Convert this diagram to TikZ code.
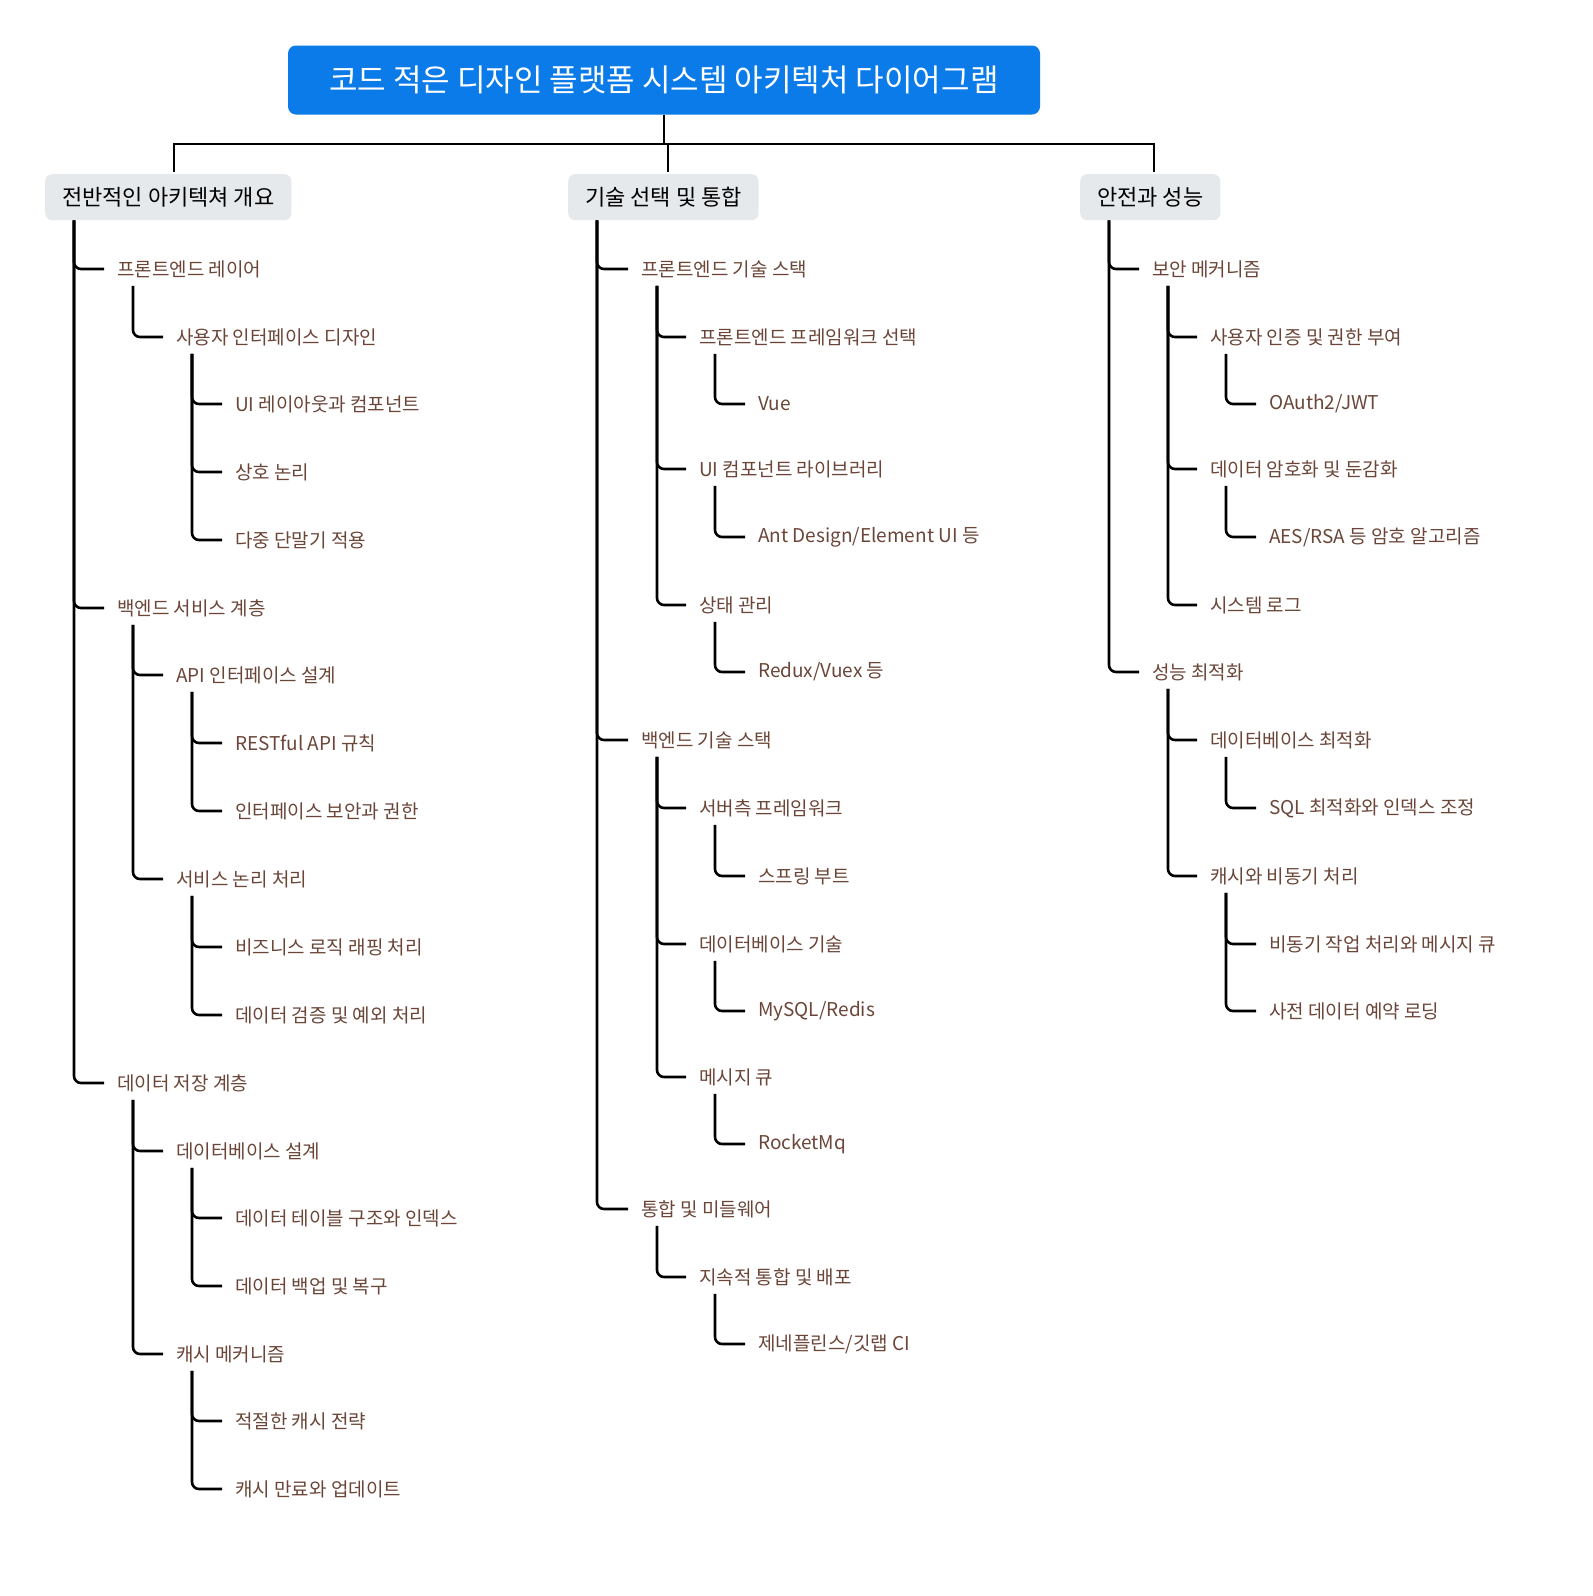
\documentclass[tikz,border=0pt]{standalone}
\usepackage{fontspec}
\setmainfont{Noto Sans CJK KR}
\usetikzlibrary{calc}
\definecolor{rootblue}{HTML}{0B7BE9}
\definecolor{topgray}{HTML}{E6E9EC}
\definecolor{leaftext}{HTML}{6A4538}
\tikzset{
  root/.style={fill=rootblue, text=white, rounded corners=8pt, minimum width=752pt, minimum height=69pt, font=\fontsize{31}{34}\selectfont},
  topic/.style={fill=topgray, rounded corners=7pt, minimum height=46pt, inner xsep=17pt, anchor=north west, font=\fontsize{22}{26}\selectfont},
  leaf/.style={anchor=west, inner sep=0pt, text=leaftext, font=\fontsize{19}{22}\selectfont},
  link/.style={line width=2.6pt, rounded corners=7pt, shorten >=13pt},
  trunk/.style={line width=2.6pt},
}
\begin{document}
\begin{tikzpicture}[x=1pt, y=-1pt]
\useasboundingbox (0,0) rectangle (1593,1596);
\node[root] (r) at (664,80) {코드 적은 디자인 플랫폼 시스템 아키텍처 다이어그램};
\node[topic] (a) at (45,174) {전반적인 아키텍쳐 개요};
\node[topic] (b) at (568,174) {기술 선택 및 통합};
\node[topic] (c) at (1080,174) {안전과 성능};
\draw[trunk] (r.south) -- (664,144);
\draw[trunk] (174,172) -- (174,144) -- (1154,144) -- (1154,172);
\draw[trunk] (668,144) -- (668,172);
% column one
\node[leaf] (a1) at (117,269) {프론트엔드 레이어};
\node[leaf] (a11) at (176,337) {사용자 인터페이스 디자인};
\node[leaf] (a111) at (235,404) {UI 레이아웃과 컴포넌트};
\node[leaf] (a112) at (235,472) {상호 논리};
\node[leaf] (a113) at (235,540) {다중 단말기 적용};
\node[leaf] (a2) at (117,608) {백엔드 서비스 계층};
\node[leaf] (a21) at (176,675) {API 인터페이스 설계};
\node[leaf] (a211) at (235,743) {RESTful API 규칙};
\node[leaf] (a212) at (235,811) {인터페이스 보안과 권한};
\node[leaf] (a22) at (176,879) {서비스 논리 처리};
\node[leaf] (a221) at (235,947) {비즈니스 로직 래핑 처리};
\node[leaf] (a222) at (235,1015) {데이터 검증 및 예외 처리};
\node[leaf] (a3) at (117,1083) {데이터 저장 계층};
\node[leaf] (a31) at (176,1151) {데이터베이스 설계};
\node[leaf] (a311) at (235,1218) {데이터 테이블 구조와 인덱스};
\node[leaf] (a312) at (235,1286) {데이터 백업 및 복구};
\node[leaf] (a32) at (176,1354) {캐시 메커니즘};
\node[leaf] (a321) at (235,1421) {적절한 캐시 전략};
\node[leaf] (a322) at (235,1489) {캐시 만료와 업데이트};
% column two
\node[leaf] (b1) at (641,269) {프론트엔드 기술 스택};
\node[leaf] (b11) at (699,337) {프론트엔드 프레임워크 선택};
\node[leaf] (b111) at (758,404) {Vue};
\node[leaf] (b12) at (699,469) {UI 컴포넌트 라이브러리};
\node[leaf] (b121) at (758,537) {Ant Design/Element UI 등};
\node[leaf] (b13) at (699,605) {상태 관리};
\node[leaf] (b131) at (758,672) {Redux/Vuex 등};
\node[leaf] (b2) at (641,740) {백엔드 기술 스택};
\node[leaf] (b21) at (699,808) {서버측 프레임워크};
\node[leaf] (b211) at (758,876) {스프링 부트};
\node[leaf] (b22) at (699,944) {데이터베이스 기술};
\node[leaf] (b221) at (758,1011) {MySQL/Redis};
\node[leaf] (b23) at (699,1077) {메시지 큐};
\node[leaf] (b231) at (758,1144) {RocketMq};
\node[leaf] (b3) at (641,1209) {통합 및 미들웨어};
\node[leaf] (b31) at (699,1277) {지속적 통합 및 배포};
\node[leaf] (b311) at (758,1344) {제네플린스/깃랩 CI};
% column three
\node[leaf] (c1) at (1152,269) {보안 메커니즘};
\node[leaf] (c11) at (1210,337) {사용자 인증 및 권한 부여};
\node[leaf] (c111) at (1269,404) {OAuth2/JWT};
\node[leaf] (c12) at (1210,469) {데이터 암호화 및 둔감화};
\node[leaf] (c121) at (1269,537) {AES/RSA 등 암호 알고리즘};
\node[leaf] (c13) at (1210,605) {시스템 로그};
\node[leaf] (c2) at (1152,672) {성능 최적화};
\node[leaf] (c21) at (1210,740) {데이터베이스 최적화};
\node[leaf] (c211) at (1269,808) {SQL 최적화와 인덱스 조정};
\node[leaf] (c22) at (1210,876) {캐시와 비동기 처리};
\node[leaf] (c221) at (1269,944) {비동기 작업 처리와 메시지 큐};
\node[leaf] (c222) at (1269,1011) {사전 데이터 예약 로딩};
% connectors
\foreach \p/\c in {a/a1, a/a2, a/a3, b/b1, b/b2, b/b3, c/c1, c/c2}
  \draw[link] ($(\p.south west)+(29,0)$) |- (\c.west);
\foreach \p/\c in {a1/a11, a11/a111, a11/a112, a11/a113, a2/a21, a2/a22,
    a21/a211, a21/a212, a22/a221, a22/a222, a3/a31, a3/a32, a31/a311,
    a31/a312, a32/a321, a32/a322, b1/b11, b1/b12, b1/b13, b11/b111,
    b12/b121, b13/b131, b2/b21, b2/b22, b2/b23, b21/b211, b22/b221,
    b23/b231, b3/b31, b31/b311, c1/c11, c1/c12, c1/c13, c11/c111,
    c12/c121, c2/c21, c2/c22, c21/c211, c22/c221, c22/c222}
  \draw[link] ($(\p.south west)+(16,8)$) |- (\c.west);
\end{tikzpicture}
\end{document}
